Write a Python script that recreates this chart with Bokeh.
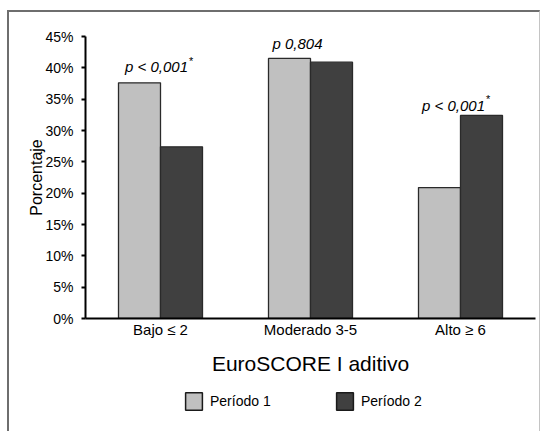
from bokeh.plotting import figure
from bokeh.layouts import column
from bokeh.models import (FactorRange, Range1d, Legend, LegendItem, Label,
                          PrintfTickFormatter, FixedTicker, ColumnDataSource)
from bokeh.transform import dodge
from bokeh.embed import file_html
from bokeh.resources import INLINE

# ---- data ----
categories = ["Bajo ≤ 2", "Moderado 3-5", "Alto ≥ 6"]
periodo1 = [37.6, 41.5, 20.9]
periodo2 = [27.4, 40.9, 32.4]
p_notes = ["p < 0,001", "p 0,804", "p < 0,001"]
p_signif = [True, False, True]
y_ticks = [0, 5, 10, 15, 20, 25, 30, 35, 40, 45]
series_names = ["Período 1", "Período 2"]

# ---- layout parameters ----
FONT = "Liberation Sans"
note_dx = [-4, -13, -7]
note_dy = [16, 15, 10]
fills = ["#c0c0c0", "#404040"]
offsets = [-0.14, 0.14]
BORDER = {"margin-left": "7px",
          "border-left": "2px solid #6e6e6e",
          "border-right": "1px solid #c4c4c4"}

p = figure(x_range=FactorRange(factors=categories, range_padding=0),
           y_range=Range1d(0, 45),
           frame_width=447, frame_height=280,
           output_backend="svg", toolbar_location=None,
           min_border_left=76, min_border_right=7,
           min_border_top=24, min_border_bottom=61)
p.styles = dict(BORDER, **{"margin-top": "10px",
                           "border-top": "2px solid #6e6e6e"})

source = ColumnDataSource(dict(cat=categories, p1=periodo1, p2=periodo2))
for col, fc, off in zip(["p1", "p2"], fills, offsets):
    p.vbar(x=dodge("cat", off, range=p.x_range), top=col, width=0.28,
           source=source, fill_color=fc, line_color="#2a2a2a", line_width=1.3)

# axes
p.xgrid.grid_line_color = None
p.ygrid.grid_line_color = None
p.outline_line_color = None

xa = p.xaxis[0]
xa.axis_line_width = 2
xa.axis_line_color = "black"
xa.major_tick_line_color = None
xa.minor_tick_line_color = None
xa.major_label_text_font = FONT
xa.major_label_text_font_size = "15px"
xa.major_label_text_color = "black"
xa.major_label_standoff = -4
xa.axis_label = "EuroSCORE I aditivo"
xa.axis_label_text_font = FONT
xa.axis_label_text_font_size = "21px"
xa.axis_label_text_font_style = "normal"
xa.axis_label_text_color = "black"
xa.axis_label_standoff = 11

ya = p.yaxis[0]
ya.ticker = FixedTicker(ticks=y_ticks)
ya.formatter = PrintfTickFormatter(format="%d%%")
ya.axis_line_width = 2
ya.axis_line_color = "black"
ya.major_tick_out = 4
ya.major_tick_in = 0
ya.major_tick_line_width = 2
ya.major_tick_line_color = "black"
ya.minor_tick_line_color = None
ya.major_label_text_font = FONT
ya.major_label_text_font_size = "14px"
ya.major_label_text_color = "black"
ya.major_label_standoff = 8
ya.axis_label = "Porcentaje"
ya.axis_label_text_font = FONT
ya.axis_label_text_font_size = "16px"
ya.axis_label_text_font_style = "normal"
ya.axis_label_text_color = "black"
ya.axis_label_standoff = -3

# p-value notes (x in synthetic categorical coordinates: category i centre = i + 0.5)
for i, (a, b, note, sig, dx, dy) in enumerate(zip(periodo1, periodo2, p_notes, p_signif,
                                                    note_dx, note_dy)):
    top = max(a, b)
    xc = i + 0.5
    p.add_layout(Label(x=xc, y=top, x_offset=dx, y_offset=dy, text=note,
                       text_align="center", text_baseline="alphabetic",
                       text_font=FONT, text_font_size="15px",
                       text_font_style="italic", text_color="black"))
    if sig:
        p.add_layout(Label(x=xc, y=top, x_offset=dx + 32, y_offset=dy + 6, text="*",
                           text_align="left", text_baseline="alphabetic",
                           text_font=FONT, text_font_size="11px",
                           text_font_style="italic", text_color="black"))

# ---- legend strip below the chart ----
pl = figure(x_range=p.x_range, y_range=Range1d(0, 45),
            width=533, height=54, output_backend="svg", toolbar_location=None,
            x_axis_location=None, y_axis_location=None,
            min_border_left=0, min_border_right=0, min_border_top=0,
            min_border_bottom=0)
pl.styles = BORDER
pl.xgrid.grid_line_color = None
pl.ygrid.grid_line_color = None
pl.outline_line_color = None

leg_renderers = []
for col, fc, off in zip(["p1", "p2"], fills, offsets):
    leg_renderers.append(pl.vbar(x=dodge("cat", off, range=p.x_range), top=col,
                                 width=0.28, source=source, fill_color=fc,
                                 line_color="#1a1a1a", line_width=1.5,
                                 visible=False))

for r, name, xloc in zip(leg_renderers, series_names, [98, 249]):
    leg = Legend(items=[LegendItem(label=name, renderers=[r])], location=(xloc, 19),
                 orientation="horizontal", padding=0, margin=0,
                 border_line_color=None, background_fill_alpha=0,
                 glyph_width=21, glyph_height=22, label_standoff=6,
                 label_text_font=FONT, label_text_font_size="14px",
                 label_text_color="black", click_policy="none")
    pl.add_layout(leg)

open("out.html", "w").write(file_html(column(p, pl, spacing=0), INLINE))
